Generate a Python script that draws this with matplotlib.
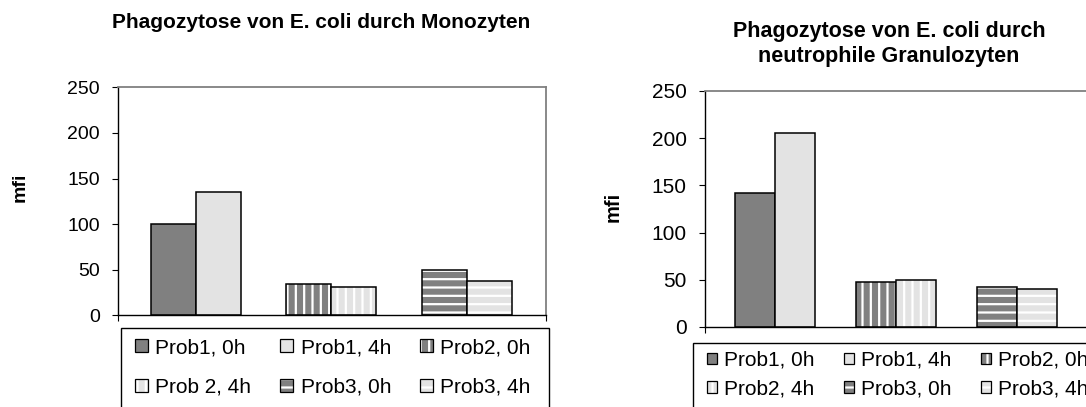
import matplotlib
matplotlib.use("Agg")
import matplotlib.pyplot as plt
from matplotlib.patches import Patch, Rectangle

plt.rcParams['font.family'] = 'Liberation Sans'
plt.rcParams['hatch.linewidth'] = 1.6

# values per series (mean fluorescence intensity)
labels_mono = ["Prob1, 0h", "Prob1, 4h", "Prob2, 0h", "Prob 2, 4h", "Prob3, 0h", "Prob3, 4h"]
labels_neutro = ["Prob1, 0h", "Prob1, 4h", "Prob2, 0h", "Prob2, 4h", "Prob3, 0h", "Prob3, 4h"]
mfi_mono = [100, 135, 34, 31, 50, 38]
mfi_neutro = [142, 205, 48, 50, 42, 40]
yticks = [0, 50, 100, 150, 200, 250]

fills = ['#808080', '#e3e3e3'] * 3
hatches = ['', '', '||', '||', '--', '--']

W, H = 1086, 407
fig = plt.figure(figsize=(W / 100, H / 100), dpi=100)


def box(x0, y0, x1, y1):
    # pixel box (top-left origin) -> figure fraction rect
    return [x0 / W, 1 - y1 / H, (x1 - x0) / W, (y1 - y0) / H]


def draw_panel(ax, values, xlim, width, fs):
    for k, v in enumerate(values):
        x = k // 2 + (-0.5 if k % 2 == 0 else 0.5) * width
        ax.bar(x, v, width, color=fills[k], hatch=hatches[k], edgecolor='white', linewidth=0)
        ax.bar(x, v, width, fill=False, edgecolor='black', linewidth=1.1)
    ax.set_xlim(*xlim)
    ax.set_ylim(0, 250)
    ax.set_yticks(yticks)
    ax.set_xticks(list(xlim))
    ax.set_xticklabels([])
    for s in ['top', 'right']:
        ax.spines[s].set_color('#808080')
        ax.spines[s].set_linewidth(1.3)
    for s in ['left', 'bottom']:
        ax.spines[s].set_linewidth(1.0)
    ax.tick_params(axis='y', length=4, width=0.8, pad=9, labelsize=fs)
    ax.tick_params(axis='x', length=4, width=0.8)


def draw_legend(labels, anchor, hsize, rowgap):
    handles = [(Patch(facecolor=fills[k], hatch=hatches[k], edgecolor='white', linewidth=0),
                Patch(fill=False, edgecolor='black', linewidth=0.9)) for k in range(6)]
    order = [0, 3, 1, 4, 2, 5]
    fig.legend([handles[i] for i in order], [labels[i] for i in order],
               ncol=3, loc='upper left', bbox_to_anchor=anchor, frameon=False,
               fontsize=15, handlelength=hsize, handleheight=hsize,
               handletextpad=0.35, columnspacing=1.4, labelspacing=rowgap,
               borderpad=0, borderaxespad=0)


# Monozyten
ax1 = fig.add_axes(box(117.7, 87.3, 546, 315.3))
draw_panel(ax1, mfi_mono, (-0.579, 2.586), 0.333, 14)
fig.text(321 / W, 1 - 23 / H, "Phagozytose von E. coli durch Monozyten",
         ha='center', va='center', fontsize=15, fontweight='bold')
fig.text(20.5 / W, 1 - 187 / H, "mfi", rotation=90, ha='center', va='center',
         fontsize=14, fontweight='bold')
fig.patches.append(Rectangle((121 / W, 1 - 430 / H), 428 / W, 102 / H,
                             transform=fig.transFigure, fill=False,
                             edgecolor='black', linewidth=1.0))
draw_legend(labels_mono, (135 / W, 1 - 338 / H), 0.62, 1.0)

# neutrophile Granulozyten
ax2 = fig.add_axes(box(704.7, 91, 1100, 327))
draw_panel(ax2, mfi_neutro, (-0.581, 2.686), 0.333, 15)
fig.text(889 / W, 1 - 44 / H, "Phagozytose von E. coli durch\nneutrophile Granulozyten",
         ha='center', va='center', fontsize=15.5, fontweight='bold', linespacing=1.25)
fig.text(613 / W, 1 - 207 / H, "mfi", rotation=90, ha='center', va='center',
         fontsize=14.5, fontweight='bold')
fig.patches.append(Rectangle((693 / W, 1 - 430 / H), 420 / W, 87 / H,
                             transform=fig.transFigure, fill=False,
                             edgecolor='black', linewidth=1.0))
draw_legend(labels_neutro, (707 / W, 1 - 351 / H), 0.48, 0.45)

fig.savefig("out.png", dpi=100)
